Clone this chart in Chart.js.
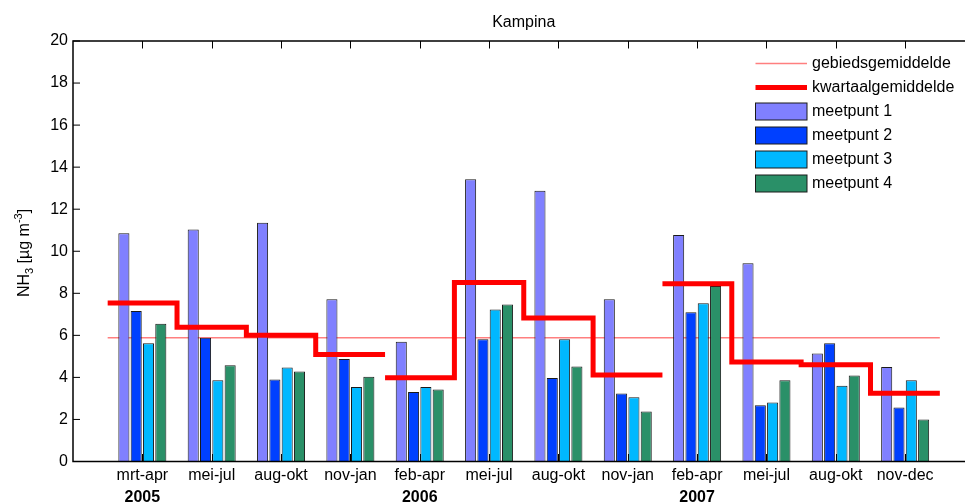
<!DOCTYPE html>
<html>
<head>
<meta charset="utf-8">
<title>Kampina NH3</title>
<script src="https://cdn.jsdelivr.net/npm/chart.js@4/dist/chart.umd.min.js"></script>
<style>
  html, body { margin: 0; padding: 0; overflow: hidden; background: #fff; }
  #wrap { width: 980px; height: 503px; }
</style>
</head>
<body>
<div id="wrap"><canvas id="c" width="980" height="503" style="width:980px;height:503px"></canvas></div>
<script>
// Quarterly NH3 concentrations (µg/m3) at four measuring points, Kampina
const periods = ['mrt-apr', 'mei-jul', 'aug-okt', 'nov-jan', 'feb-apr', 'mei-jul',
                 'aug-okt', 'nov-jan', 'feb-apr', 'mei-jul', 'aug-okt', 'nov-dec'];
const meetpunt1 = [10.86, 11.03, 11.35, 7.72, 5.69, 13.42, 12.88, 7.72, 10.77, 9.43, 5.14, 4.50];
const meetpunt2 = [7.16, 5.88, 3.90, 4.88, 3.30, 5.82, 3.97, 3.24, 7.10, 2.68, 5.63, 2.57];
const meetpunt3 = [5.63, 3.86, 4.47, 3.54, 3.54, 7.23, 5.82, 3.05, 7.53, 2.81, 3.60, 3.86];
const meetpunt4 = [6.55, 4.58, 4.28, 4.03, 3.43, 7.47, 4.52, 2.38, 8.35, 3.86, 4.09, 2.00];
const kwartaalgemiddelde = [7.54, 6.39, 6.01, 5.09, 3.98, 8.51, 6.83, 4.11, 8.45, 4.73, 4.60, 3.25];
const gebiedsgemiddelde = 5.88;
const years = ['2005', '2006', '2007'];
const yearFirstPeriod = [0, 4, 8];   // index in periods where each year starts
const yTicks = [0, 2, 4, 6, 8, 10, 12, 14, 16, 18, 20];

const FONT = '"Liberation Sans", Arial, Helvetica, sans-serif';
Chart.defaults.font.family = FONT;
Chart.defaults.font.size = 16;
Chart.defaults.color = '#000';

// Periods sit at positions 1..12 on a numeric axis running from 0 to 13
const pos = i => i + 1;
const toPoints = arr => arr.map((v, i) => ({ x: pos(i), y: v }));

const barColors = ['#8080ff', '#0040ff', '#00b8ff', '#2a9068'];
const barSeries = [meetpunt1, meetpunt2, meetpunt3, meetpunt4];
const barNames = ['meetpunt 1', 'meetpunt 2', 'meetpunt 3', 'meetpunt 4'];

const THIN_RED = '#ff7f7f';
const RED = '#ff0000';

// Step line per year: each quarter spans its period +/- 0.5
function yearSteps(start, count) {
  const pts = [];
  for (let i = start; i < start + count; i++) {
    pts.push({ x: pos(i) - 0.5, y: kwartaalgemiddelde[i] });
    pts.push({ x: pos(i) + 0.5, y: kwartaalgemiddelde[i] });
  }
  return pts;
}

const datasets = [];
datasets.push({
  type: 'line',
  label: 'gebiedsgemiddelde',
  data: [{ x: pos(0) - 0.5, y: gebiedsgemiddelde },
         { x: pos(periods.length - 1) + 0.5, y: gebiedsgemiddelde }],
  borderColor: THIN_RED,
  borderWidth: 1.5,
  pointRadius: 0,
  order: 3
});
barSeries.forEach((s, k) => {
  datasets.push({
    type: 'bar',
    label: barNames[k],
    data: toPoints(s),
    backgroundColor: barColors[k],
    borderColor: '#1a1a1a',
    borderWidth: 1,
    categoryPercentage: 0.71,
    barPercentage: 0.9,
    order: 2
  });
});
yearFirstPeriod.forEach((start, k) => {
  const end = k + 1 < yearFirstPeriod.length ? yearFirstPeriod[k + 1] : periods.length;
  datasets.push({
    type: 'line',
    label: 'kwartaalgemiddelde',
    data: yearSteps(start, end - start),
    borderColor: RED,
    borderWidth: 5,
    borderJoinStyle: 'miter',
    borderCapStyle: 'butt',
    pointRadius: 0,
    order: 1
  });
});

// Inward tick marks, drawn underneath the bars
const innerTicks = {
  id: 'innerTicks',
  beforeDatasetsDraw(chart) {
    const { ctx, chartArea: a, scales } = chart;
    ctx.save();
    ctx.strokeStyle = '#000';
    ctx.lineWidth = 1;
    ctx.beginPath();
    yTicks.forEach(v => {
      const y = scales.y.getPixelForValue(v);
      ctx.moveTo(a.left, y); ctx.lineTo(a.left + 7, y);
      ctx.moveTo(a.right, y); ctx.lineTo(a.right - 7, y);
    });
    periods.forEach((p, i) => {
      const x = Math.round(scales.x.getPixelForValue(pos(i))) + 0.5;
      ctx.moveTo(x, a.top); ctx.lineTo(x, a.top + 7.5);
      ctx.moveTo(x, a.bottom); ctx.lineTo(x, a.bottom - 7.5);
    });
    ctx.stroke();
    ctx.restore();
  }
};

// Axes box, title, axis title, year labels and legend
const decor = {
  id: 'decor',
  afterDatasetsDraw(chart) {
    const { ctx, chartArea: a } = chart;
    ctx.save();
    ctx.strokeStyle = '#000';
    ctx.lineWidth = 1.5;
    ctx.strokeRect(a.left, a.top, a.right - a.left, a.bottom - a.top);
    ctx.restore();
  },
  afterDraw(chart) {
    const { ctx, chartArea: a, scales } = chart;
    ctx.save();
    ctx.fillStyle = '#000';

    // title
    ctx.font = '16px ' + FONT;
    ctx.textAlign = 'center';
    ctx.textBaseline = 'alphabetic';
    ctx.fillText('Kampina', (a.left + a.right) / 2, 26.5);

    // year labels under the first period of each year
    ctx.font = 'bold 16px ' + FONT;
    years.forEach((yr, k) => {
      ctx.fillText(yr, scales.x.getPixelForValue(pos(yearFirstPeriod[k])), 502);
    });

    // y axis title: NH3 [µg m-3]
    ctx.save();
    ctx.translate(28.5, 253);
    ctx.rotate(-Math.PI / 2);
    ctx.textAlign = 'left';
    const parts = [['NH', 16, 0], ['3', 11, 4], [' [\u00b5g m', 16, 0], ['-3', 11, -7], [']', 16, 0]];
    let total = 0;
    parts.forEach(p => { ctx.font = p[1] + 'px ' + FONT; total += ctx.measureText(p[0]).width; });
    let tx = -total / 2;
    parts.forEach(p => {
      ctx.font = p[1] + 'px ' + FONT;
      ctx.fillText(p[0], tx, p[2]);
      tx += ctx.measureText(p[0]).width;
    });
    ctx.restore();

    // legend
    const lx0 = 755.5, lx1 = 807, textX = 812;
    const rowY = i => 63.5 + 24 * i;
    ctx.font = '16px ' + FONT;
    ctx.textAlign = 'left';
    ctx.textBaseline = 'middle';
    ctx.lineCap = 'butt';
    ctx.strokeStyle = THIN_RED;
    ctx.lineWidth = 1.5;
    ctx.beginPath(); ctx.moveTo(lx0, rowY(0)); ctx.lineTo(lx1, rowY(0)); ctx.stroke();
    ctx.fillText('gebiedsgemiddelde', textX, rowY(0));
    ctx.strokeStyle = RED;
    ctx.lineWidth = 5;
    ctx.beginPath(); ctx.moveTo(lx0, rowY(1)); ctx.lineTo(lx1, rowY(1)); ctx.stroke();
    ctx.fillText('kwartaalgemiddelde', textX, rowY(1));
    barNames.forEach((name, k) => {
      const y = rowY(k + 2);
      ctx.fillStyle = barColors[k];
      ctx.fillRect(lx0, y - 8.5, lx1 - lx0, 17);
      ctx.strokeStyle = '#1a1a1a';
      ctx.lineWidth = 1;
      ctx.strokeRect(lx0, y - 8.5, lx1 - lx0, 17);
      ctx.fillStyle = '#000';
      ctx.fillText(name, textX, y);
    });
    ctx.restore();
  }
};

new Chart(document.getElementById('c'), {
  type: 'bar',
  data: { datasets },
  options: {
    responsive: false,
    animation: false,
    devicePixelRatio: 1,
    parsing: true,
    layout: { padding: { top: 41, right: 5.5, left: 0, bottom: 0 } },
    plugins: { legend: { display: false }, tooltip: { enabled: false }, title: { display: false } },
    scales: {
      x: {
        type: 'linear',
        min: 0,
        max: periods.length + 1,
        offset: false,
        grid: { display: false, drawTicks: false, offset: false },
        border: { display: false },
        afterBuildTicks(scale) {
          scale.ticks = periods.map((p, i) => ({ value: pos(i) }));
        },
        ticks: {
          autoSkip: false,
          maxRotation: 0,
          minRotation: 0,
          padding: 4,
          font: { size: 16 },
          color: '#000',
          callback: v => periods[v - 1] || ''
        },
        afterFit(scale) { scale.height = 41.5; }
      },
      y: {
        min: 0,
        max: 20,
        grid: { display: false, drawTicks: false },
        border: { display: false },
        ticks: { stepSize: 2, padding: 5, font: { size: 16 }, color: '#000' },
        afterFit(scale) { scale.width = 73; }
      }
    }
  },
  plugins: [innerTicks, decor]
});
</script>
</body>
</html>
